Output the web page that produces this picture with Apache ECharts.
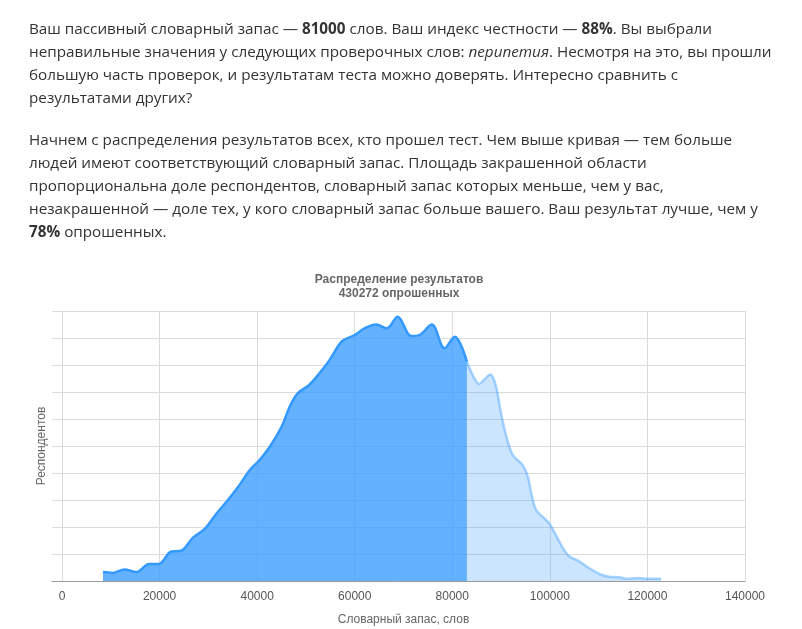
<!DOCTYPE html>
<html>
<head>
<meta charset="utf-8">
<script src="https://cdn.jsdelivr.net/npm/echarts@6/dist/echarts.min.js"></script>
<style>
  html, body { margin: 0; padding: 0; background: #fff; width: 802px; height: 629px; overflow: hidden; }
  #chart { position: absolute; left: 0; top: 0; width: 802px; height: 629px; }
  #text { position: absolute; left: 29px; top: 17px; z-index: 2; pointer-events: none;
          font-family: "Open Sans", "Noto Sans", sans-serif; font-size: 15.25px; line-height: 23px; color: #333; white-space: nowrap; }
  #text p { margin: 0 0 19px 0; }
  #text b { font-weight: 700; }
</style>
</head>
<body>
<div id="chart"></div>
<div id="text">
  <p>Ваш пассивный словарный запас — <b>81000</b> слов. Ваш индекс честности — <b>88%</b>. Вы выбрали<br>неправильные значения у следующих проверочных слов: <i>перипетия</i>. Несмотря на это, вы прошли<br>большую часть проверок, и результатам теста можно доверять. Интересно сравнить с<br>результатами других?</p>
  <p>Начнем с распределения результатов всех, кто прошел тест. Чем выше кривая — тем больше<br>людей имеют соответствующий словарный запас. Площадь закрашенной области<br>пропорциональна доле респондентов, словарный запас которых меньше, чем у вас,<br>незакрашенной — доле тех, у кого словарный запас больше вашего. Ваш результат лучше, чем у<br><b>78%</b> опрошенных.</p>
</div>
<script>
// Words (x) and relative number of respondents (y), below your score
const wordsBelow = [8400, 10400, 12800, 15200, 17900, 19800, 22400, 24400, 26800, 29200, 31600, 34000, 36400, 38500, 40500, 42600, 45000, 46700, 48300, 50600, 52800, 54900, 57400, 60000, 62000, 64400, 66600, 68800, 71600, 73400, 75800, 78400, 80500, 83000];
const respBelow  = [0.33, 0.30, 0.43, 0.33, 0.63, 0.63, 1.09, 1.12, 1.60, 1.92, 2.48, 3.00, 3.56, 4.11, 4.48, 4.97, 5.71, 6.46, 6.95, 7.25, 7.70, 8.20, 8.88, 9.11, 9.36, 9.50, 9.36, 9.79, 9.07, 9.12, 9.50, 8.62, 9.05, 8.12];
// Above your score
const wordsAbove = [83000, 84200, 85500, 86600, 87800, 88900, 90000, 91100, 92400, 94400, 95500, 96200, 97200, 98900, 100000, 101600, 103700, 106100, 108100, 110200, 112200, 114300, 115700, 118000, 120400, 122800];
const respAbove  = [8.12, 7.63, 7.30, 7.47, 7.65, 7.26, 6.21, 5.35, 4.67, 4.30, 3.86, 3.25, 2.63, 2.32, 2.10, 1.58, 0.96, 0.72, 0.47, 0.26, 0.16, 0.14, 0.08, 0.11, 0.08, 0.08];
// X axis tick labels
const xTicks = [0, 20000, 40000, 60000, 80000, 100000, 120000, 140000];
const yMax = 10;

const titleText = 'Распределение результатов\n430272 опрошенных';
const xName = 'Словарный запас, слов';
const yName = 'Респондентов';

const zip = (a, b) => a.map((v, i) => [v, b[i]]);
const FONT = '"Liberation Sans", Arial, sans-serif';

const chart = echarts.init(document.getElementById('chart'), null, { renderer: 'canvas' });
chart.setOption({
  animation: false,
  backgroundColor: '#fff',
  title: {
    text: titleText,
    left: 399, top: 273, textAlign: 'center', padding: 0,
    textStyle: { fontFamily: FONT, fontSize: 12, fontWeight: 'bold', color: '#666', lineHeight: 14 }
  },
  grid: [
    { left: 52, right: 57, top: 311, bottom: 48 },
    { left: 62, right: 57, top: 311, bottom: 48 }
  ],
  xAxis: [
    { gridIndex: 0, type: 'value', min: 0, max: 1,
      axisLine: { show: true, lineStyle: { color: '#9a9a9a', width: 1 } },
      axisTick: { show: false }, axisLabel: { show: false }, splitLine: { show: false } },
    { gridIndex: 1, type: 'value', min: xTicks[0], max: xTicks[xTicks.length - 1], interval: xTicks[1] - xTicks[0],
      name: xName, nameLocation: 'middle', nameGap: 33,
      nameTextStyle: { fontFamily: FONT, fontSize: 12, color: '#666' },
      axisLine: { show: false }, axisTick: { show: false },
      axisLabel: { fontFamily: FONT, fontSize: 12, color: '#555', margin: 10, formatter: v => String(v) },
      splitLine: { show: true, lineStyle: { color: '#dcdcdc', width: 1 } } }
  ],
  yAxis: [
    { gridIndex: 0, type: 'value', min: 0, max: yMax, interval: 1,
      name: yName, nameLocation: 'middle', nameGap: 4,
      nameTextStyle: { fontFamily: FONT, fontSize: 12, color: '#666' },
      axisLine: { show: false }, axisTick: { show: false }, axisLabel: { show: false },
      splitLine: { show: true, lineStyle: { color: '#dcdcdc', width: 1 } } },
    { gridIndex: 1, type: 'value', min: 0, max: yMax,
      axisLine: { show: false }, axisTick: { show: false }, axisLabel: { show: false }, splitLine: { show: false } }
  ],
  series: [
    { type: 'line', xAxisIndex: 1, yAxisIndex: 1, data: zip(wordsAbove, respAbove),
      smooth: 0.35, symbol: 'none',
      lineStyle: { color: 'rgba(51,153,255,0.4)', width: 2.5 },
      areaStyle: { color: 'rgba(51,153,255,0.25)', opacity: 1 } },
    { type: 'line', xAxisIndex: 1, yAxisIndex: 1, data: zip(wordsBelow, respBelow),
      smooth: 0.35, symbol: 'none',
      lineStyle: { color: '#3399ff', width: 2.5 },
      areaStyle: { color: 'rgba(51,153,255,0.76)', opacity: 1 } }
  ]
});
</script>
</body>
</html>
